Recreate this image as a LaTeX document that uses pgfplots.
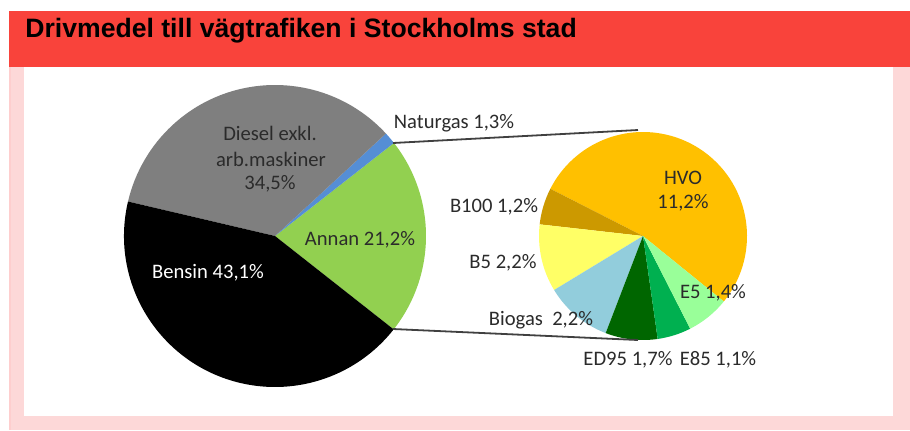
\documentclass[border=0pt]{standalone}
\usepackage{pgfplots}
\pgfplotsset{compat=1.18}
\usepackage{fontspec}
\setmainfont{Carlito}
\newfontfamily\headfont{Liberation Sans}

\definecolor{HeadRed}{HTML}{F9433B}
\definecolor{FramePink}{HTML}{FDD8D8}
\definecolor{LabelGray}{HTML}{2B2B2B}
\definecolor{Bensin}{HTML}{000000}
\definecolor{Diesel}{HTML}{7F7F7F}
\definecolor{Naturgas}{HTML}{558ED5}
\definecolor{Annan}{HTML}{92D050}
\definecolor{HVO}{HTML}{FFC000}
\definecolor{BHundred}{HTML}{CC9900}
\definecolor{BFive}{HTML}{FFFF66}
\definecolor{Biogas}{HTML}{92CDDC}
\definecolor{EDNinetyFive}{HTML}{006600}
\definecolor{EEightyFive}{HTML}{00B050}
\definecolor{EFive}{HTML}{99FF99}

% pie inside an axis: centre x, centre y, radius, start angle, total, list value/colour
\newcommand\drawpie[6]{%
  \pgfmathsetmacro\acur{#4}%
  \foreach \v/\c in {#6} {%
    \pgfmathsetmacro\anext{\acur+\v/#5*360}%
    \edef\temp{\noexpand\fill[\c] (axis cs:#1,#2) -- ++(\acur:#3)
      arc[start angle=\acur, end angle=\anext, radius=#3] -- cycle;}%
    \temp
    \global\let\acur\anext
  }%
}

\begin{document}
\begin{tikzpicture}
\begin{axis}[
    width=455pt, height=215pt, scale only axis,
    xmin=0, xmax=910, ymin=0, ymax=430, y dir=reverse,
    hide axis, clip=false,
  ]
  % frame and header band
  \fill[white] (axis cs:0,0) rectangle (axis cs:910,430);
  \fill[FramePink] (axis cs:9,67) rectangle (axis cs:910,430);
  \fill[FramePink!80!red!60] (axis cs:9,67) rectangle (axis cs:11,430);
  \fill[white] (axis cs:24,67) rectangle (axis cs:893,416);
  \fill[HeadRed] (axis cs:9,11) rectangle (axis cs:910,67);
  \node[anchor=base west, inner sep=0pt, font=\headfont\bfseries\fontsize{13.3pt}{15pt}\selectfont]
    at (axis cs:25,37.5) {Drivmedel till vägtrafiken i Stockholms stad};

  % main pie (shares in %)
  \drawpie{275}{236}{75.5pt}{-38.2}{100.1}{21.2/Annan, 1.3/Naturgas, 34.5/Diesel, 43.1/Bensin}
  % secondary pie: the parts of Annan
  \drawpie{643}{236}{52pt}{-39}{21.0}{11.2/HVO, 1.2/BHundred, 2.2/BFive, 2.2/Biogas, 1.7/EDNinetyFive, 1.1/EEightyFive, 1.4/EFive}

  % connector lines
  \draw[black!75, line width=0.9pt] (axis cs:393,143) -- (axis cs:638,130);
  \draw[black!75, line width=0.9pt] (axis cs:393,329) -- (axis cs:638,340);

  % labels
  \begin{scope}[every node/.style={font=\fontsize{10.3pt}{11pt}\selectfont, text=LabelGray, inner sep=0pt}]
    \node at (axis cs:270,133) {Diesel exkl.};
    \node at (axis cs:271,159) {arb.maskiner};
    \node at (axis cs:270,184) {34,5\%};
    \node[text=white] at (axis cs:208,273) {Bensin 43,1\%};
    \node at (axis cs:360,240) {Annan 21,2\%};
    \node at (axis cs:454,123) {Naturgas 1,3\%};
    \node at (axis cs:683,178) {HVO};
    \node at (axis cs:683,203) {11,2\%};
    \node at (axis cs:494,207) {B100 1,2\%};
    \node at (axis cs:503,263) {B5 2,2\%};
    \node at (axis cs:541,320) {Biogas\ \ 2,2\%};
    \node at (axis cs:628,360) {ED95 1,7\%};
    \node at (axis cs:718,360) {E85 1,1\%};
    \node at (axis cs:713,293) {E5 1,4\%};
  \end{scope}
\end{axis}
\end{tikzpicture}
\end{document}
